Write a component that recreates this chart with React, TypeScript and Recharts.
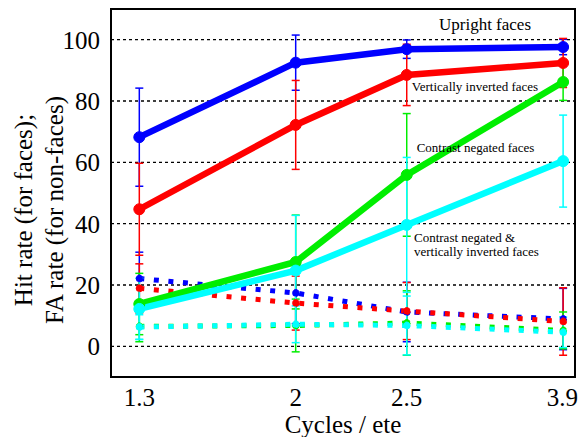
import { LineChart, Line, XAxis, YAxis, CartesianGrid, ErrorBar, ReferenceArea } from "recharts";

// x axis: spatial frequency conditions, plotted at their original (uneven) axis positions
const cycleLabels = ["1.3", "2", "2.5", "3.9"];
const cycleAxisPos = [0, 1, 1.71, 2.71];
const yTicks = [0, 20, 40, 60, 80, 100];

// hit rates (solid) and false alarm rates (dotted), with error bars
const uprightHit = [68.2, 92.5, 96.9, 97.6];
const uprightHitErr = [16, 9, 3, 2.5];
const uprightFA = [22.1, 17.4, 11.2, 8.9];
const uprightFAErr = [8.6, 10, 9.7, 10];

const invertedHit = [44.7, 72.2, 88.5, 92.4];
const invertedHitErr = [15, 14.5, 10, 8];
const invertedFA = [18.9, 14.1, 11.5, 8.1];
const invertedFAErr = [8, 8.8, 9.3, 11];

const negatedHit = [13.8, 27.5, 55.9, 86.2];
const negatedHitErr = [10, 15.3, 20, 6];
const negatedFA = [6.5, 6.8, 7.6, 5.2];
const negatedFAErr = [5, 8.6, 10.5, 6];

const bothHit = [12.2, 24.7, 39.6, 60.4];
const bothHitErr = [10, 18, 22, 15];
const bothFA = [6.3, 7.2, 6.8, 4.6];
const bothFAErr = [4, 6, 9.6, 5];

const rows = cycleAxisPos.map((x, i) => ({
    x,
    uprightHit: uprightHit[i], uprightHitErr: uprightHitErr[i],
    uprightFA: uprightFA[i], uprightFAErr: uprightFAErr[i],
    invertedHit: invertedHit[i], invertedHitErr: invertedHitErr[i],
    invertedFA: invertedFA[i], invertedFAErr: invertedFAErr[i],
    negatedHit: negatedHit[i], negatedHitErr: negatedHitErr[i],
    negatedFA: negatedFA[i], negatedFAErr: negatedFAErr[i],
    bothHit: bothHit[i], bothHitErr: bothHitErr[i],
    bothFA: bothFA[i], bothFAErr: bothFAErr[i],
}));

const FONT = '"Liberation Serif", "Times New Roman", serif';
const X_DOMAIN: [number, number] = [-0.181, 2.786];

const seriesOrder = [
    { key: "uprightHit", color: "#0000ff", dotted: false },
    { key: "uprightFA", color: "#0000ff", dotted: true },
    { key: "invertedHit", color: "#ff0000", dotted: false },
    { key: "invertedFA", color: "#ff0000", dotted: true },
    { key: "negatedHit", color: "#00ee00", dotted: false },
    { key: "negatedFA", color: "#00ee00", dotted: true },
    { key: "bothHit", color: "#00ffff", dotted: false },
    { key: "bothFA", color: "#00ffff", dotted: true },
];

export default function App() {
    return (
        <div style={{ position: "absolute", left: 0, top: 0, width: 578, height: 437, background: "#fff", fontFamily: FONT }}>
            <LineChart width={578} height={437} data={rows} margin={{ top: 9, right: 3, left: 0, bottom: 0 }}>
                <CartesianGrid vertical={false} stroke="#000" strokeDasharray="3 3" strokeWidth={1.3} />
                <XAxis
                    type="number"
                    dataKey="x"
                    domain={X_DOMAIN}
                    allowDataOverflow
                    ticks={cycleAxisPos}
                    tickFormatter={(v: number) => cycleLabels[cycleAxisPos.indexOf(v)] ?? ""}
                    tickLine={false}
                    axisLine={false}
                    tickSize={6}
                    tickMargin={5}
                    height={60}
                    tick={{ fill: "#000", fontSize: 25, fontFamily: FONT }}
                />
                <YAxis
                    type="number"
                    domain={[-10, 110]}
                    allowDataOverflow
                    ticks={yTicks}
                    tickLine={false}
                    axisLine={false}
                    tickSize={6}
                    tickMargin={5}
                    width={111}
                    tick={{ fill: "#000", fontSize: 25, fontFamily: FONT }}
                />
                {seriesOrder.map((s) => (
                    <Line
                        key={s.key}
                        dataKey={s.key}
                        stroke={s.color}
                        strokeWidth={s.dotted ? 5 : 6.5}
                        strokeDasharray={s.dotted ? "5 9.6" : undefined}
                        strokeLinecap="butt"
                        dot={{ r: s.dotted ? 3.5 : 5.5, fill: s.color, stroke: s.color, strokeWidth: 1 }}
                        isAnimationActive={false}
                    >
                        <ErrorBar dataKey={s.key + "Err"} direction="y" width={4} stroke={s.color} strokeWidth={1.5} />
                    </Line>
                ))}
                <ReferenceArea x1={X_DOMAIN[0]} x2={X_DOMAIN[1]} y1={-10} y2={110} fill="none" stroke="#000" strokeWidth={2} ifOverflow="visible" />
            </LineChart>
            <svg width={578} height={437} style={{ position: "absolute", left: 0, top: 0, pointerEvents: "none" }} fontFamily={FONT}>
                <text x={485} y={30} fontSize={17} textAnchor="middle" fill="#000">Upright faces</text>
                <text x={475} y={91} fontSize={13} textAnchor="middle" fill="#000">Vertically inverted faces</text>
                <text x={475.5} y={152} fontSize={13} textAnchor="middle" fill="#000">Contrast negated faces</text>
                <text x={414} y={242} fontSize={13} fill="#000">Contrast negated &amp;</text>
                <text x={414} y={256} fontSize={13} fill="#000">vertically inverted faces</text>
                <text x={343} y={433} fontSize={25} textAnchor="middle" fill="#000">Cycles / ete</text>
                <g transform="translate(32,210) rotate(-90)">
                    <text x={0} y={0} fontSize={25} textAnchor="middle" fill="#000">Hit rate (for faces);</text>
                </g>
                <g transform="translate(63,210) rotate(-90)">
                    <text x={0} y={0} fontSize={25} textAnchor="middle" fill="#000">FA rate (for non-faces)</text>
                </g>
            </svg>
        </div>
    );
}
